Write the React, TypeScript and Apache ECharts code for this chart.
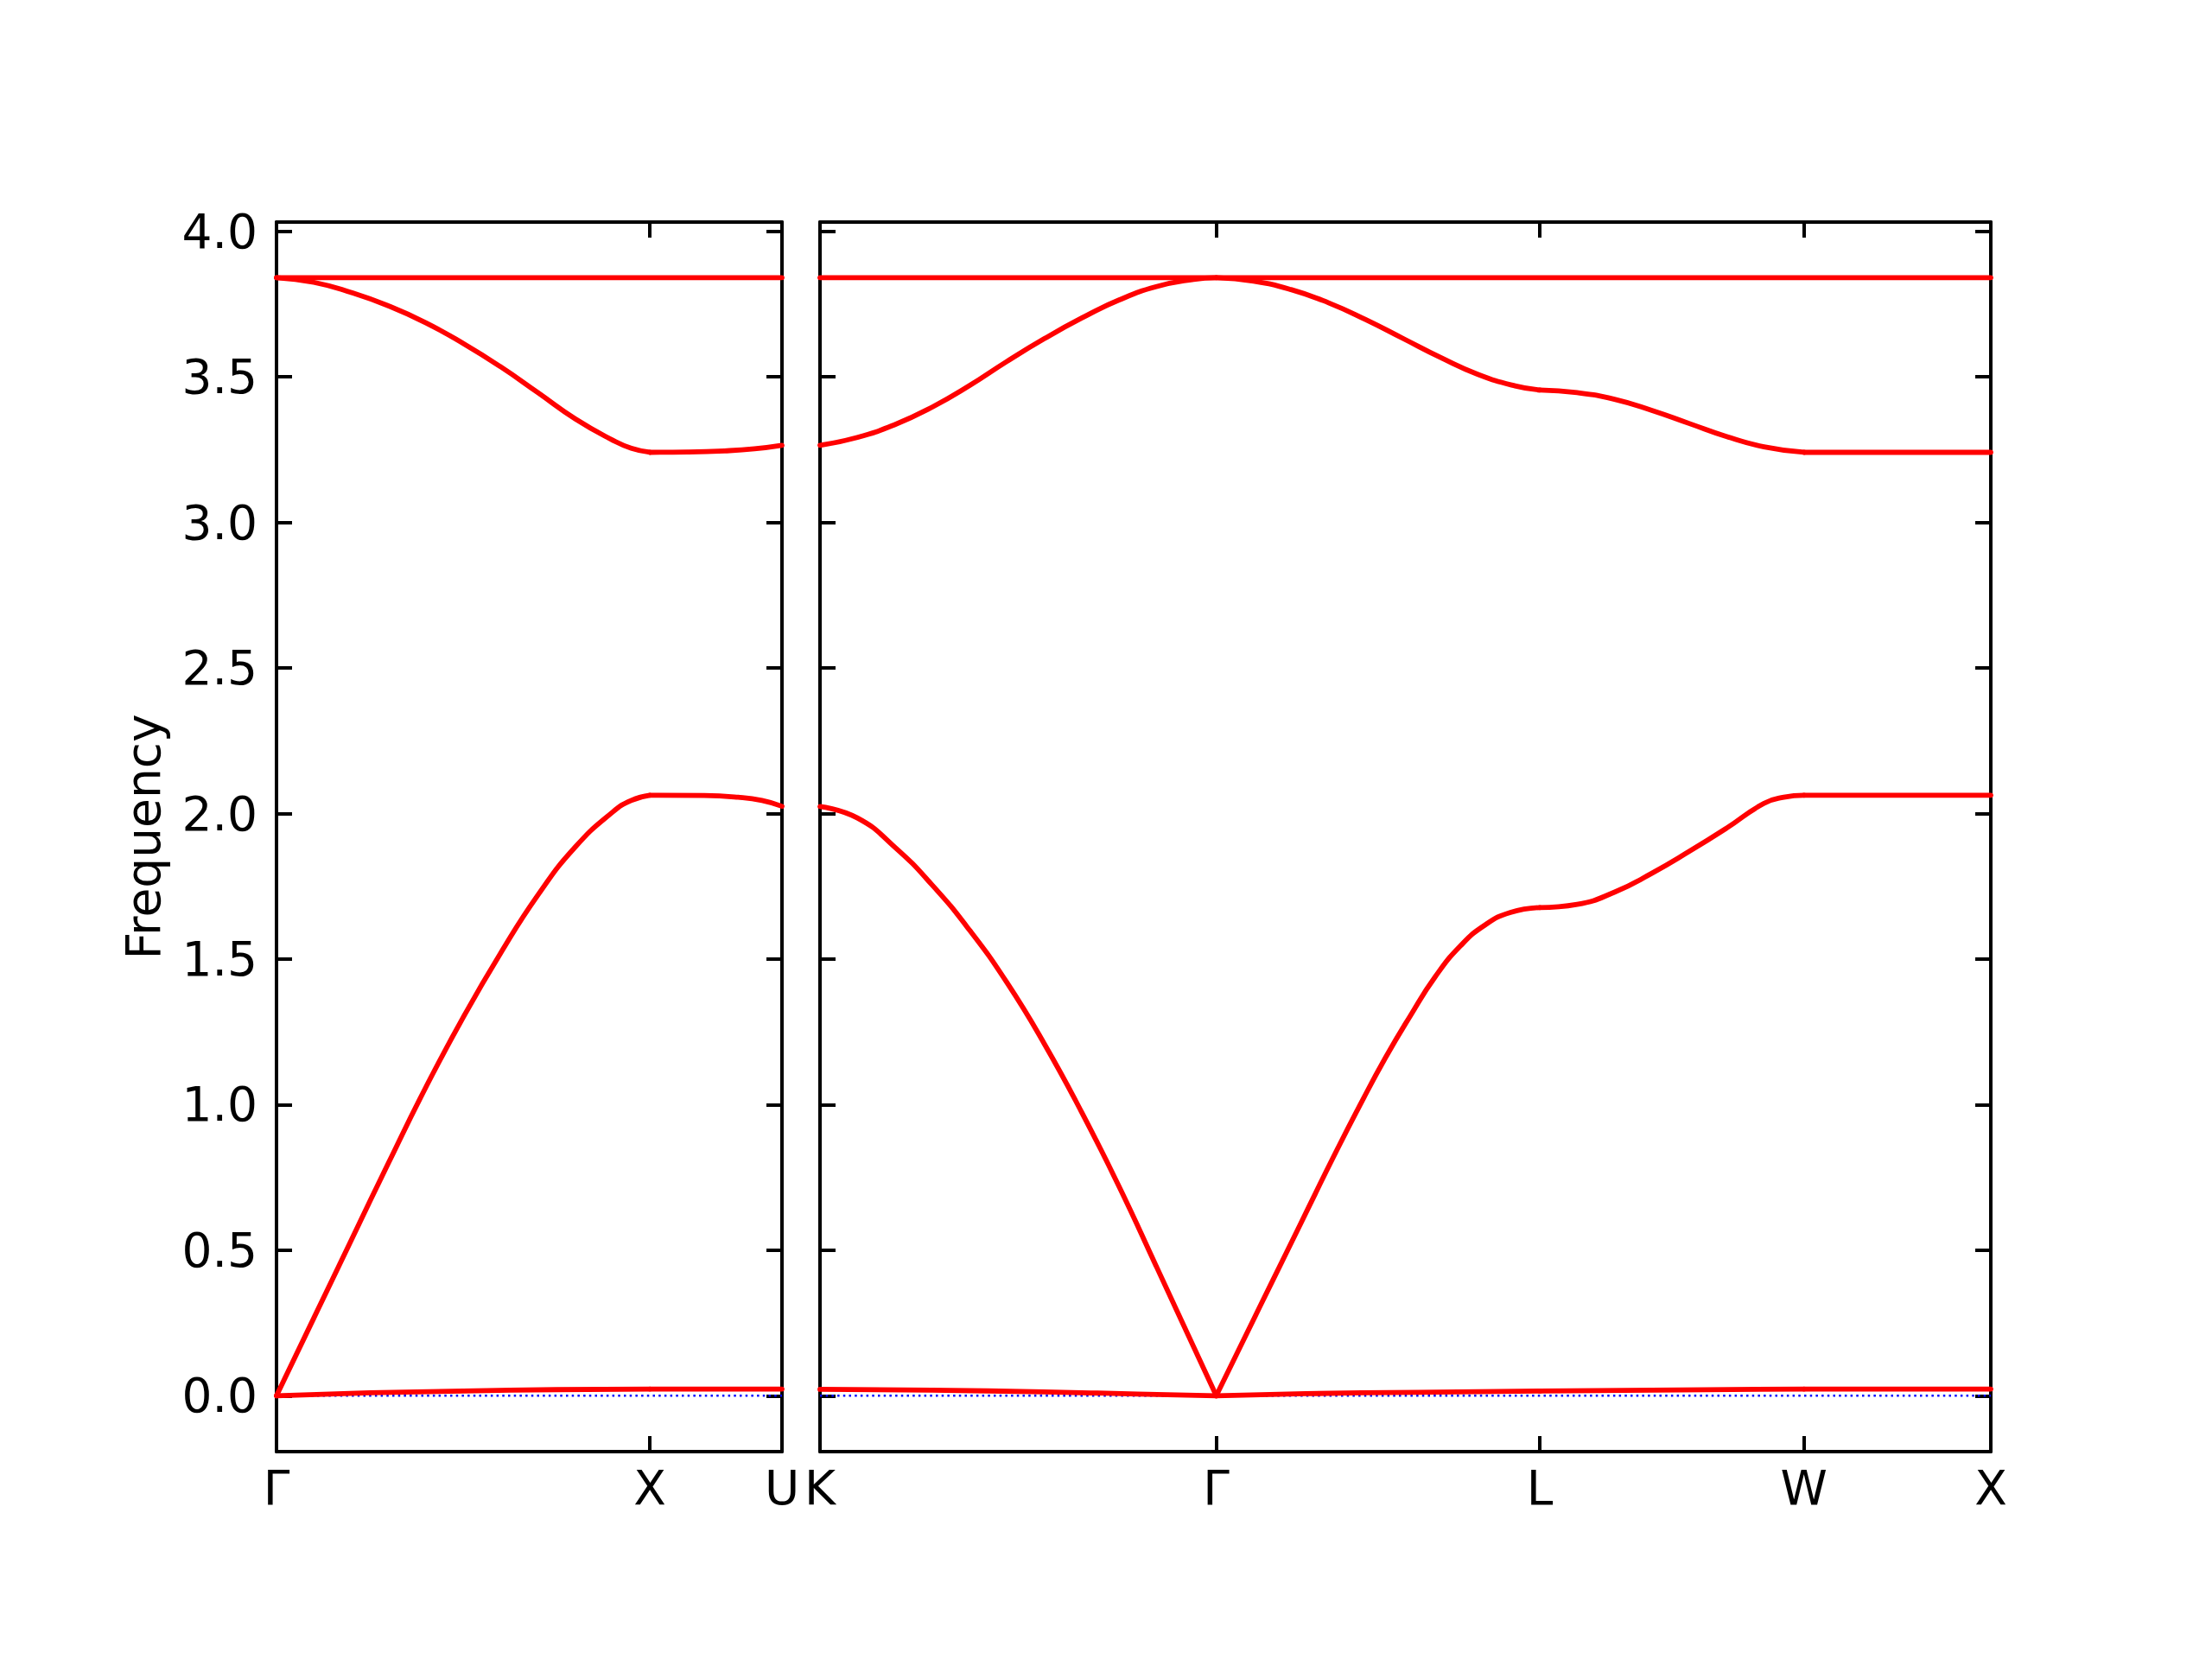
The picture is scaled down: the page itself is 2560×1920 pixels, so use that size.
import React, { useEffect, useRef } from "react";
import * as echarts from "echarts";

// ---- path (distances along the q-path) ----
const LEFT_TICKS = [0, 1.0, 1.3536];
const LEFT_LABELS = ["Γ", "X", "U"];
const RIGHT_TICKS = [0, 1.0607, 1.9267, 2.6338, 3.1338];
const RIGHT_LABELS = ["K", "Γ", "L", "W", "X"];
const Y_TICKS = [0, 0.5, 1.0, 1.5, 2.0, 2.5, 3.0, 3.5, 4.0];
const Y_MIN = -0.192;
const Y_MAX = 4.032;

// ---- left panel: Γ–X–U ----
const L_band1 = [[0, 3.841], [1.3536, 3.841]];
const L_band2_GX = [[0, 3.841], [0.1, 3.825], [0.2, 3.79], [0.3, 3.744], [0.4, 3.686], [0.5, 3.615], [0.6, 3.535], [0.7, 3.446], [0.8, 3.356], [0.9, 3.283], [0.95, 3.255], [1.0, 3.241]];
const L_band2_XU = [[1.0, 3.241], [1.1, 3.242], [1.2, 3.246], [1.28, 3.253], [1.3536, 3.265]];
const L_band3_GX = [[0, 0], [0.1, 0.267], [0.2, 0.534], [0.3, 0.8], [0.4, 1.06], [0.5, 1.3], [0.6, 1.52], [0.7, 1.72], [0.8, 1.885], [0.9, 2.005], [0.95, 2.045], [1.0, 2.063]];
const L_band3_XU = [[1.0, 2.063], [1.145, 2.062], [1.236, 2.056], [1.3, 2.045], [1.3536, 2.025]];
const L_band4_GX = [[0, 0], [0.25, 0.01], [0.5, 0.016], [0.75, 0.021], [1.0, 0.023]];
const L_band4_XU = [[1.0, 0.023], [1.3536, 0.023]];

// ---- right panel: K–Γ–L–W–X ----
const R_band1 = [[0, 3.841], [3.1338, 3.841]];
const R_band2_KG = [[0, 3.265], [0.1, 3.292], [0.2, 3.336], [0.3, 3.396], [0.4, 3.47], [0.5, 3.553], [0.6, 3.631], [0.7, 3.702], [0.8, 3.764], [0.9, 3.81], [1.0, 3.835], [1.0607, 3.841]];
const R_band2_GL = [[1.0607, 3.841], [1.1607, 3.829], [1.2607, 3.8], [1.3607, 3.755], [1.4607, 3.697], [1.5607, 3.632], [1.6607, 3.567], [1.7607, 3.509], [1.8607, 3.469], [1.9267, 3.455]];
const R_band2_LW = [[1.9267, 3.455], [2.0267, 3.446], [2.1267, 3.423], [2.2267, 3.385], [2.3267, 3.34], [2.4267, 3.295], [2.5267, 3.26], [2.6338, 3.241]];
const R_band2_WX = [[2.6338, 3.241], [3.1338, 3.241]];
const R_band3_KG = [[0, 2.024], [0.1, 1.985], [0.2, 1.885], [0.3, 1.755], [0.4, 1.6], [0.5, 1.42], [0.6, 1.21], [0.7, 0.975], [0.8, 0.72], [0.9, 0.445], [1.0607, 0]];
const R_band3_GL = [[1.0607, 0], [1.177, 0.305], [1.249, 0.493], [1.312, 0.658], [1.378, 0.83], [1.446, 1.0], [1.513, 1.16], [1.58, 1.305], [1.647, 1.44], [1.714, 1.545], [1.781, 1.618], [1.848, 1.66], [1.9267, 1.677]];
const R_band3_LW = [[1.9267, 1.677], [2.0267, 1.688], [2.1267, 1.73], [2.2267, 1.795], [2.3267, 1.87], [2.4267, 1.95], [2.5267, 2.035], [2.58, 2.056], [2.6338, 2.063]];
const R_band3_WX = [[2.6338, 2.063], [3.1338, 2.063]];
const R_band4_KG = [[0, 0.022], [0.3, 0.019], [0.6, 0.013], [0.85, 0.006], [1.0607, 0]];
const R_band4_GL = [[1.0607, 0], [1.3, 0.007], [1.6, 0.012], [1.9267, 0.016]];
const R_band4_LW = [[1.9267, 0.016], [2.3, 0.02], [2.6338, 0.023]];
const R_band4_WX = [[2.6338, 0.023], [3.1338, 0.023]];

const LEFT_SEGMENTS = [L_band1, L_band2_GX, L_band2_XU, L_band3_GX, L_band3_XU, L_band4_GX, L_band4_XU];
const RIGHT_SEGMENTS = [R_band1, R_band2_KG, R_band2_GL, R_band2_LW, R_band2_WX, R_band3_KG, R_band3_GL, R_band3_LW, R_band3_WX, R_band4_KG, R_band4_GL, R_band4_LW, R_band4_WX];

const FONT = "DejaVu Sans";
const FS = 55;

function labelFor(ticks: number[], labels: string[]) {
  return (v: number) => {
    for (let i = 0; i < ticks.length; i++) if (Math.abs(ticks[i] - v) < 1e-6) return labels[i];
    return "";
  };
}

export default function App() {
  const ref = useRef<HTMLDivElement>(null);
  useEffect(() => {
    if (!ref.current) return;
    const chart = echarts.init(ref.current, null, { renderer: "svg" });
    const line = { show: true, onZero: false, lineStyle: { color: "#000", width: 4 } };
    const tick = (vals: number[]) => ({ show: true, inside: true, length: 18, customValues: vals, lineStyle: { color: "#000", width: 4 } });
    const xAx = (grid: number, pos: string, max: number, ticks: number[], labels: string[] | null) => ({
      type: "value",
      gridIndex: grid,
      position: pos,
      min: 0,
      max,
      axisLine: line,
      axisTick: tick(ticks),
      splitLine: { show: false },
      axisLabel: labels
        ? { show: true, customValues: ticks, formatter: labelFor(ticks, labels), margin: 14, color: "#000", fontFamily: FONT, fontSize: FS, showMinLabel: true, showMaxLabel: true, hideOverlap: false }
        : { show: false },
    });
    const yAx = (grid: number, pos: string, showLabel: boolean, name?: string) => ({
      type: "value",
      gridIndex: grid,
      position: pos,
      min: Y_MIN,
      max: Y_MAX,
      axisLine: line,
      axisTick: tick(Y_TICKS),
      splitLine: { show: false },
      name: name || "",
      nameLocation: "middle",
      nameRotate: 90,
      nameGap: 127,
      nameTextStyle: { color: "#000", fontFamily: FONT, fontSize: FS },
      axisLabel: showLabel
        ? { show: true, customValues: Y_TICKS, formatter: (v: number) => v.toFixed(1), margin: 22, color: "#000", fontFamily: FONT, fontSize: FS, showMinLabel: true, showMaxLabel: true }
        : { show: false },
    });
    const redSeries = (seg: number[][], xi: number, yi: number) => ({
      type: "line",
      xAxisIndex: xi,
      yAxisIndex: yi,
      data: seg,
      showSymbol: false,
      symbol: "none",
      smooth: 0.5,
      silent: true,
      z: 3,
      lineStyle: { color: "#ff0000", width: 5.8, cap: "round", join: "round" },
    });
    const zeroSeries = (max: number, xi: number, yi: number) => ({
      type: "line",
      xAxisIndex: xi,
      yAxisIndex: yi,
      data: [[0, 0], [max, 0]],
      showSymbol: false,
      symbol: "none",
      silent: true,
      z: 2,
      lineStyle: { color: "#0000ff", width: 2.5, type: [2.5, 4.2] },
    });
    const option: any = {
      animation: false,
      backgroundColor: "#fff",
      textStyle: { fontFamily: FONT },
      grid: [
        { left: 320, top: 257, width: 585, height: 1423, containLabel: false, outerBoundsMode: "none" },
        { left: 949, top: 257, width: 1355, height: 1423, containLabel: false, outerBoundsMode: "none" },
      ],
      xAxis: [
        xAx(0, "bottom", LEFT_TICKS[LEFT_TICKS.length - 1], LEFT_TICKS, LEFT_LABELS),
        xAx(0, "top", LEFT_TICKS[LEFT_TICKS.length - 1], LEFT_TICKS, null),
        xAx(1, "bottom", RIGHT_TICKS[RIGHT_TICKS.length - 1], RIGHT_TICKS, RIGHT_LABELS),
        xAx(1, "top", RIGHT_TICKS[RIGHT_TICKS.length - 1], RIGHT_TICKS, null),
      ],
      yAxis: [
        yAx(0, "left", true, "Frequency"),
        yAx(0, "right", false),
        yAx(1, "left", false),
        yAx(1, "right", false),
      ],
      series: [
        zeroSeries(LEFT_TICKS[LEFT_TICKS.length - 1], 0, 0),
        zeroSeries(RIGHT_TICKS[RIGHT_TICKS.length - 1], 2, 2),
        ...LEFT_SEGMENTS.map((s) => redSeries(s, 0, 0)),
        ...RIGHT_SEGMENTS.map((s) => redSeries(s, 2, 2)),
      ],
    };
    chart.setOption(option);
    return () => chart.dispose();
  }, []);
  return <div ref={ref} style={{ position: "fixed", left: 0, top: 0, width: 2560, height: 1920, background: "#fff" }} />;
}
